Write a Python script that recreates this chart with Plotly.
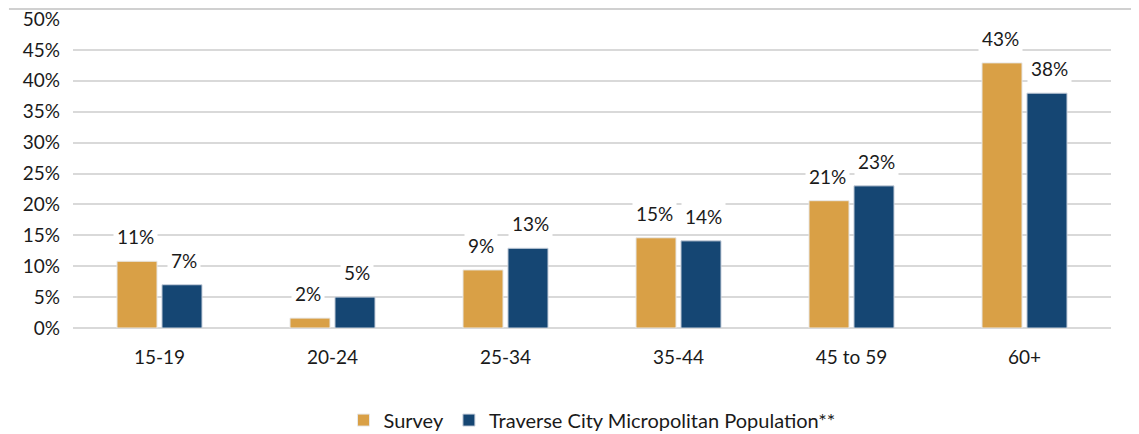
import plotly.graph_objects as go

categories = ["15-19", "20-24", "25-34", "35-44", "45 to 59", "60+"]
survey = [10.8, 1.6, 9.4, 14.6, 20.6, 42.9]
population = [7.0, 5.0, 12.9, 14.1, 23.0, 38.0]
survey_labels = ["11%", "2%", "9%", "15%", "21%", "43%"]
population_labels = ["7%", "5%", "13%", "14%", "23%", "38%"]
y_ticks = [0, 5, 10, 15, 20, 25, 30, 35, 40, 45, 50]

GOLD = "#D9A046"
NAVY = "#154673"
FONT = "Lato, 'Open Sans', sans-serif"

xs = list(range(len(categories)))
fig = go.Figure()
fig.add_trace(go.Bar(x=xs, y=survey, name="Survey", marker_color=GOLD,
                     marker_line=dict(color="#e8e8e8", width=1)))
fig.add_trace(go.Bar(x=xs, y=population, name="Traverse City Micropolitan Population**",
                     marker_color=NAVY, marker_line=dict(color="#c8d0dc", width=1)))

for i in xs:
    for vals, labs, shift in ((survey, survey_labels, -24.5), (population, population_labels, 24.5)):
        fig.add_annotation(x=i, y=vals[i], text=labs[i], xshift=shift, yshift=9,
                           yanchor="bottom", showarrow=False, bgcolor="white",
                           font=dict(size=19, color="#1a1a1a", family=FONT),
                           borderpad=3)

fig.add_shape(type="line", xref="paper", yref="paper", x0=-0.0617, x1=1.03,
              y0=1.0324, y1=1.0324, line=dict(color="#c0c0c0", width=1.5))

fig.update_layout(
    width=1139, height=434,
    margin=dict(l=65, r=36, t=11, b=114, autoexpand=False),
    plot_bgcolor="white", paper_bgcolor="white",
    barmode="group", bargap=0.48, bargroupgap=0.11,
    font=dict(family=FONT, size=18, color="#1a1a1a"),
    showlegend=True,
    legend=dict(orientation="h", x=0.5, xanchor="center", y=-0.298, yanchor="middle",
                font=dict(size=20), itemwidth=30, traceorder="normal"),
    xaxis=dict(tickmode="array", tickvals=xs, ticktext=categories, range=[-0.5, 5.5],
               showgrid=False, zeroline=False, showline=False, ticks="", automargin=False,
               ticklabelstandoff=16, tickfont=dict(size=19)),
    yaxis=dict(range=[0, 50.001], tickvals=y_ticks, ticktext=[f"{v}%" for v in y_ticks],
               showgrid=True, gridcolor="#d9d9d9", gridwidth=1.5, zeroline=True,
               zerolinecolor="#d9d9d9", zerolinewidth=1.5, showline=False, ticks="",
               automargin=False, ticklabelstandoff=12, tickfont=dict(size=19),
               ticklabeloverflow="allow"),
)

fig.write_html("out.html")
